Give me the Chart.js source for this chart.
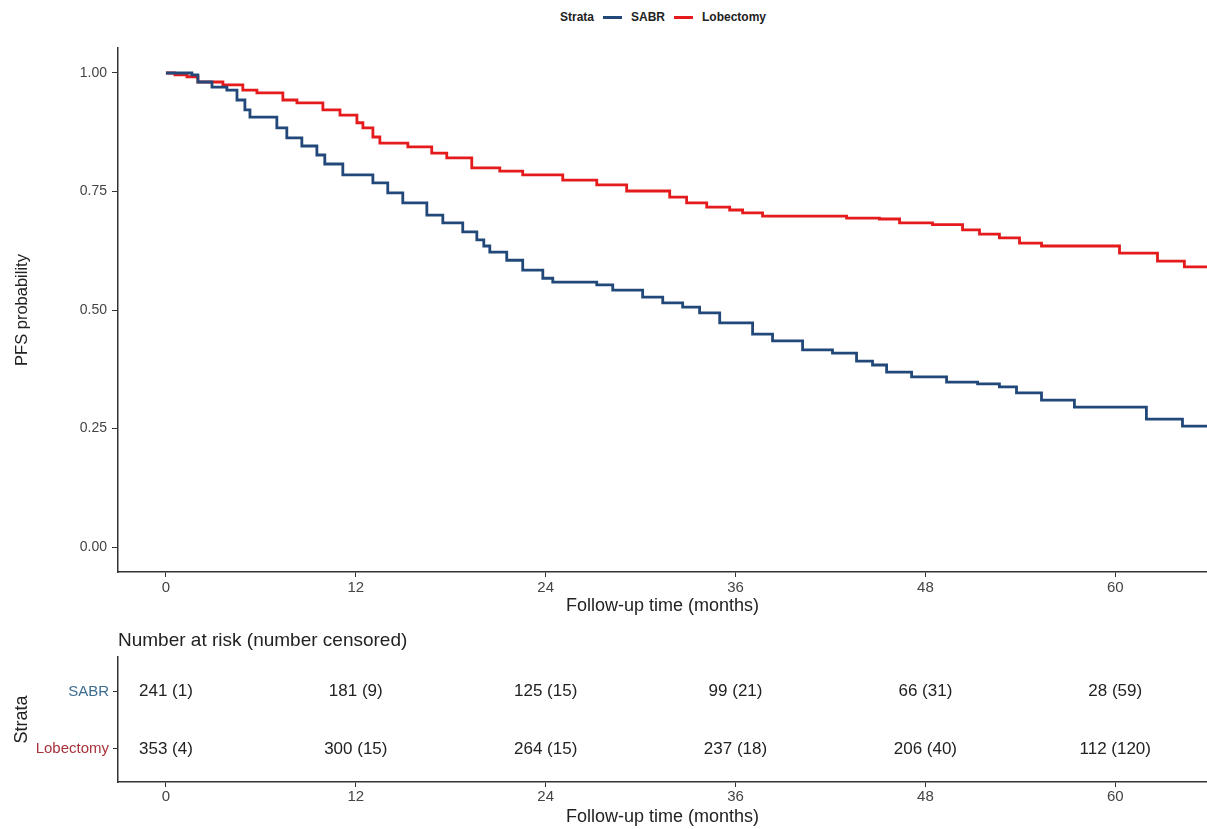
<!DOCTYPE html>
<html>
<head>
<meta charset="utf-8">
<title>PFS by strata</title>
<script src="https://cdn.jsdelivr.net/npm/chart.js@4.4.1/dist/chart.umd.min.js"></script>
<style>
  body { margin: 0; background: #fff; font-family: "Liberation Sans", Arial, sans-serif; }
  #wrap { position: relative; width: 1207px; height: 829px; }
  #kmChart { position: absolute; left: 0; top: 0; }
  #riskChart { position: absolute; left: 0; top: 625px; }
  #legend {
    position: absolute; top: 9px; left: 560px; height: 16px;
    display: flex; align-items: center;
    font-size: 12px; font-weight: bold; color: #222;
  }
  #legend .key { display: inline-block; width: 19px; height: 3px; margin: 0 9px 0 9px; }
</style>
</head>
<body>
<div id="wrap">
  <div id="legend"></div>
  <canvas id="kmChart" width="1207" height="625"></canvas>
  <canvas id="riskChart" width="1207" height="204"></canvas>
</div>
<script>
// strata
const strataNames = ["SABR", "Lobectomy"];
const strataColors = ["#22487a", "#e41a1c"];
const strataTextColors = ["#3d6d90", "#a8323a"];

// Kaplan-Meier steps: month where the curve drops, and the new probability
const sabrTime = [0, 1.64, 2.02, 2.91, 3.85, 4.49, 4.99, 5.31, 7.01, 7.64, 8.59, 9.54, 10.04, 11.18,
  13.08, 14.02, 14.97, 16.49, 17.5, 18.76, 19.65, 20.09, 20.47, 21.54, 22.55, 23.82, 24.45,
  27.23, 28.24, 30.13, 31.4, 32.66, 33.73, 35.0, 37.08, 38.34, 40.24, 42.13, 43.65, 44.66,
  45.55, 47.13, 49.34, 51.3, 52.68, 53.76, 55.34, 57.42, 61.97, 64.25, 66];
const sabrSurv = [1.0, 0.996, 0.981, 0.97, 0.964, 0.943, 0.922, 0.907, 0.884, 0.863, 0.846, 0.827, 0.808, 0.785,
  0.768, 0.747, 0.726, 0.70, 0.684, 0.665, 0.648, 0.635, 0.622, 0.605, 0.584, 0.567, 0.559,
  0.553, 0.542, 0.527, 0.515, 0.506, 0.494, 0.473, 0.449, 0.435, 0.416, 0.409, 0.392, 0.384,
  0.369, 0.359, 0.348, 0.344, 0.338, 0.325, 0.31, 0.295, 0.27, 0.255, 0.255];

const lobTime = [0, 0.57, 1.33, 2.02, 3.6, 4.86, 5.75, 7.39, 8.28, 9.92, 11.0, 12.07, 12.45, 13.08, 13.52,
  15.29, 16.8, 17.75, 19.33, 21.1, 22.55, 25.08, 27.23, 29.12, 31.84, 32.91, 34.18, 35.63,
  36.45, 37.71, 43.02, 45.1, 46.37, 48.45, 50.35, 51.42, 52.68, 53.95, 55.34, 60.27, 62.67,
  64.37, 66];
const lobSurv = [1.0, 0.996, 0.992, 0.981, 0.975, 0.964, 0.958, 0.943, 0.937, 0.922, 0.911, 0.895, 0.884, 0.865, 0.852,
  0.844, 0.831, 0.821, 0.80, 0.793, 0.785, 0.774, 0.764, 0.751, 0.738, 0.726, 0.717, 0.711,
  0.705, 0.698, 0.694, 0.692, 0.684, 0.68, 0.669, 0.66, 0.652, 0.641, 0.635, 0.62, 0.603,
  0.591, 0.591];

// risk table
const riskTimes = [0, 12, 24, 36, 48, 60];
const sabrAtRisk = [241, 181, 125, 99, 66, 28];
const sabrCensored = [1, 9, 15, 21, 31, 59];
const lobAtRisk = [353, 300, 264, 237, 206, 112];
const lobCensored = [4, 15, 15, 18, 40, 120];

const probTicks = [0, 0.25, 0.5, 0.75, 1];

const axisColor = "#333";
const tickTextColor = "#444";
const titleColor = "#222";

function toPoints(xs, ys) {
  return xs.map((x, i) => ({ x: x, y: ys[i] }));
}

function renderLegend() {
  const legend = document.getElementById("legend");
  legend.innerHTML =
    "<span>Strata</span>" +
    strataNames
      .map(
        (name, i) =>
          `<span class="key" style="background:${strataColors[i]}"></span><span>${name}</span>`,
      )
      .join("");
}

function xScaleOptions(height, labelPad, titleBottom) {
  return {
    type: "linear",
    min: -3.03,
    max: 65.8,
    afterBuildTicks: (scale) => {
      scale.ticks = riskTimes.map((v) => ({ value: v }));
    },
    afterFit: (scale) => {
      scale.height = height;
    },
    grid: { drawOnChartArea: false, color: axisColor, tickLength: 5, lineWidth: 1 },
    border: { color: axisColor, width: 1.5 },
    ticks: {
      font: { size: 15 },
      color: tickTextColor,
      padding: labelPad,
      maxRotation: 0,
      callback: (v) => v,
    },
    title: {
      display: true,
      text: "Follow-up time (months)",
      font: { size: 18 },
      color: titleColor,
      padding: { top: 0, bottom: titleBottom },
    },
  };
}

function renderKmChart() {
  const ctx = document.getElementById("kmChart").getContext("2d");
  new Chart(ctx, {
    type: "line",
    data: {
      datasets: [
        {
          label: strataNames[0],
          data: toPoints(sabrTime, sabrSurv),
          borderColor: strataColors[0],
          borderWidth: 2.8,
          stepped: "before",
          pointRadius: 0,
          fill: false,
        },
        {
          label: strataNames[1],
          data: toPoints(lobTime, lobSurv),
          borderColor: strataColors[1],
          borderWidth: 2.8,
          stepped: "before",
          pointRadius: 0,
          fill: false,
        },
      ],
    },
    options: {
      responsive: false,
      animation: false,
      layout: { padding: { top: 48, left: 0, right: 0, bottom: 0 } },
      plugins: { legend: { display: false }, tooltip: { enabled: false } },
      scales: {
        x: xScaleOptions(53, 2, 8),
        y: {
          type: "linear",
          min: -0.0527,
          max: 1.0527,
          afterBuildTicks: (scale) => {
            scale.ticks = probTicks.map((v) => ({ value: v }));
          },
          afterFit: (scale) => {
            scale.width = 118;
          },
          grid: { drawOnChartArea: false, color: axisColor, tickLength: 6, lineWidth: 1 },
          border: { color: axisColor, width: 1.5 },
          ticks: {
            font: { size: 14 },
            color: tickTextColor,
            padding: 5,
            callback: (v) => v.toFixed(2),
          },
          title: {
            display: true,
            text: "PFS probability",
            font: { size: 16.5 },
            color: titleColor,
            padding: { top: 13, bottom: 0 },
          },
        },
      },
    },
  });
}

const riskLabels = {
  id: "riskLabels",
  afterDatasetsDraw(chart) {
    const ctx = chart.ctx;
    const rows = [
      [sabrAtRisk, sabrCensored],
      [lobAtRisk, lobCensored],
    ];
    ctx.save();
    ctx.font = '17px "Liberation Sans", Arial, sans-serif';
    ctx.fillStyle = "#222";
    ctx.textAlign = "center";
    ctx.textBaseline = "middle";
    rows.forEach((row, d) => {
      const meta = chart.getDatasetMeta(d);
      meta.data.forEach((pt, i) => {
        ctx.fillText(`${row[0][i]} (${row[1][i]})`, pt.x, pt.y);
      });
    });
    ctx.restore();
  },
};

function renderRiskChart() {
  const ctx = document.getElementById("riskChart").getContext("2d");
  new Chart(ctx, {
    type: "scatter",
    data: {
      datasets: strataNames.map((name, i) => ({
        label: name,
        data: riskTimes.map((t) => ({ x: t, y: i + 1 })),
        pointRadius: 0,
        showLine: false,
      })),
    },
    options: {
      responsive: false,
      animation: false,
      layout: { padding: 0 },
      plugins: {
        legend: { display: false },
        tooltip: { enabled: false },
        title: {
          display: true,
          text: "Number at risk (number censored)",
          align: "start",
          fullSize: false,
          font: { size: 19, weight: "normal" },
          color: titleColor,
          padding: { top: 4, bottom: 5 },
        },
      },
      scales: {
        x: xScaleOptions(47, 1, 1),
        y: {
          type: "linear",
          min: 0.39,
          max: 2.58,
          reverse: true,
          afterBuildTicks: (scale) => {
            scale.ticks = strataNames.map((n, i) => ({ value: i + 1 }));
          },
          afterFit: (scale) => {
            scale.width = 118;
          },
          grid: { drawOnChartArea: false, color: axisColor, tickLength: 5, lineWidth: 1 },
          border: { color: axisColor, width: 1.5 },
          ticks: {
            font: { size: 15 },
            color: (c) => strataTextColors[c.index],
            padding: 4,
            callback: (v) => strataNames[v - 1],
          },
          title: {
            display: true,
            text: "Strata",
            font: { size: 18 },
            color: titleColor,
            padding: { top: 11, bottom: 0 },
          },
        },
      },
    },
    plugins: [riskLabels],
  });
}

renderLegend();
renderKmChart();
renderRiskChart();
</script>
</body>
</html>
